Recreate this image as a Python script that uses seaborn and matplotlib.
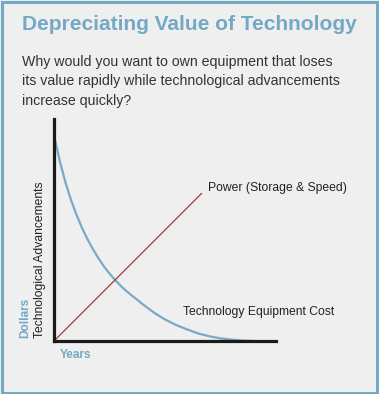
import numpy as np
import matplotlib
matplotlib.use("Agg")
import matplotlib.pyplot as plt
import seaborn as sns
from matplotlib.patches import Rectangle

# values (0-10 scale on both axes)
cost_x = [0, 0.25, 0.5, 0.75, 1.0, 1.25, 1.5, 1.75, 2.0, 2.25, 2.5, 2.75, 3.0, 3.25,
          3.5, 3.75, 4.0, 4.5, 5.0, 5.5, 6.0, 6.5, 7.0, 7.5, 8.0, 8.5, 9.0]
cost_y = [9.28, 8.15, 7.2, 6.4, 5.72, 5.12, 4.6, 4.14, 3.73, 3.36, 3.04, 2.75, 2.49, 2.26,
          2.05, 1.86, 1.65, 1.28, 0.97, 0.72, 0.52, 0.34, 0.21, 0.12, 0.06, 0.02, 0.0]
power_x = [0, 6.65]
power_y = [0, 6.65]

title = "Depreciating Value of Technology"
subtitle = ["Why would you want to own equipment that loses",
            "its value rapidly while technological advancements",
            "increase quickly?"]

BG = "#efefef"
BLUE = "#74a9c6"
W, H = 379, 394

sns.set_theme(style="white")
plt.rcParams['font.family'] = ['Liberation Sans', 'DejaVu Sans']

fig = plt.figure(figsize=(W / 100, H / 100), dpi=100)
fig.patch.set_facecolor(BG)
fig.patches.append(Rectangle((1.5 / W, 1.5 / H), 1 - 3.5 / W, 1 - 3.5 / H,
                             transform=fig.transFigure, fill=False,
                             edgecolor=BLUE, linewidth=2.2))

def px(x, y):
    return x / W, 1 - y / H

ax = fig.add_axes([54 / W, (H - 341) / H, 222 / W, 222 / H])
ax.set_facecolor(BG)
sns.lineplot(x=cost_x, y=cost_y, ax=ax, color="#78aac6", linewidth=1.6)
sns.lineplot(x=power_x, y=power_y, ax=ax, color="#a83434", linewidth=0.9)
ax.set_xlim(0, 10)
ax.set_ylim(0, 10)
ax.set_xticks([])
ax.set_yticks([])
for s in ["top", "right"]:
    ax.spines[s].set_visible(False)
for s in ["left", "bottom"]:
    ax.spines[s].set_color("#1a1a1a")
    ax.spines[s].set_linewidth(2.3)

fig.text(*px(22, 24), title, fontsize=15, fontweight="bold", color=BLUE, va="center")
for i, line in enumerate(subtitle):
    fig.text(*px(22, 62 + i * 19.5), line, fontsize=10.2, color="#333333", va="center")

fig.text(*px(208, 188), "Power (Storage & Speed)", fontsize=8.7, color="#222222", va="center")
fig.text(*px(183, 312), "Technology Equipment Cost", fontsize=8.7, color="#222222", va="center")
fig.text(*px(40, 338), "Technological Advancements", fontsize=8.7, color="#222222",
         rotation=90, ha="center", va="bottom")
fig.text(*px(25, 338), "Dollars", fontsize=8.6, color=BLUE, fontweight="bold",
         rotation=90, ha="center", va="bottom")
fig.text(*px(60, 355), "Years", fontsize=8.6, color=BLUE, fontweight="bold", va="center")

fig.savefig("out.png", dpi=100, facecolor=BG)
